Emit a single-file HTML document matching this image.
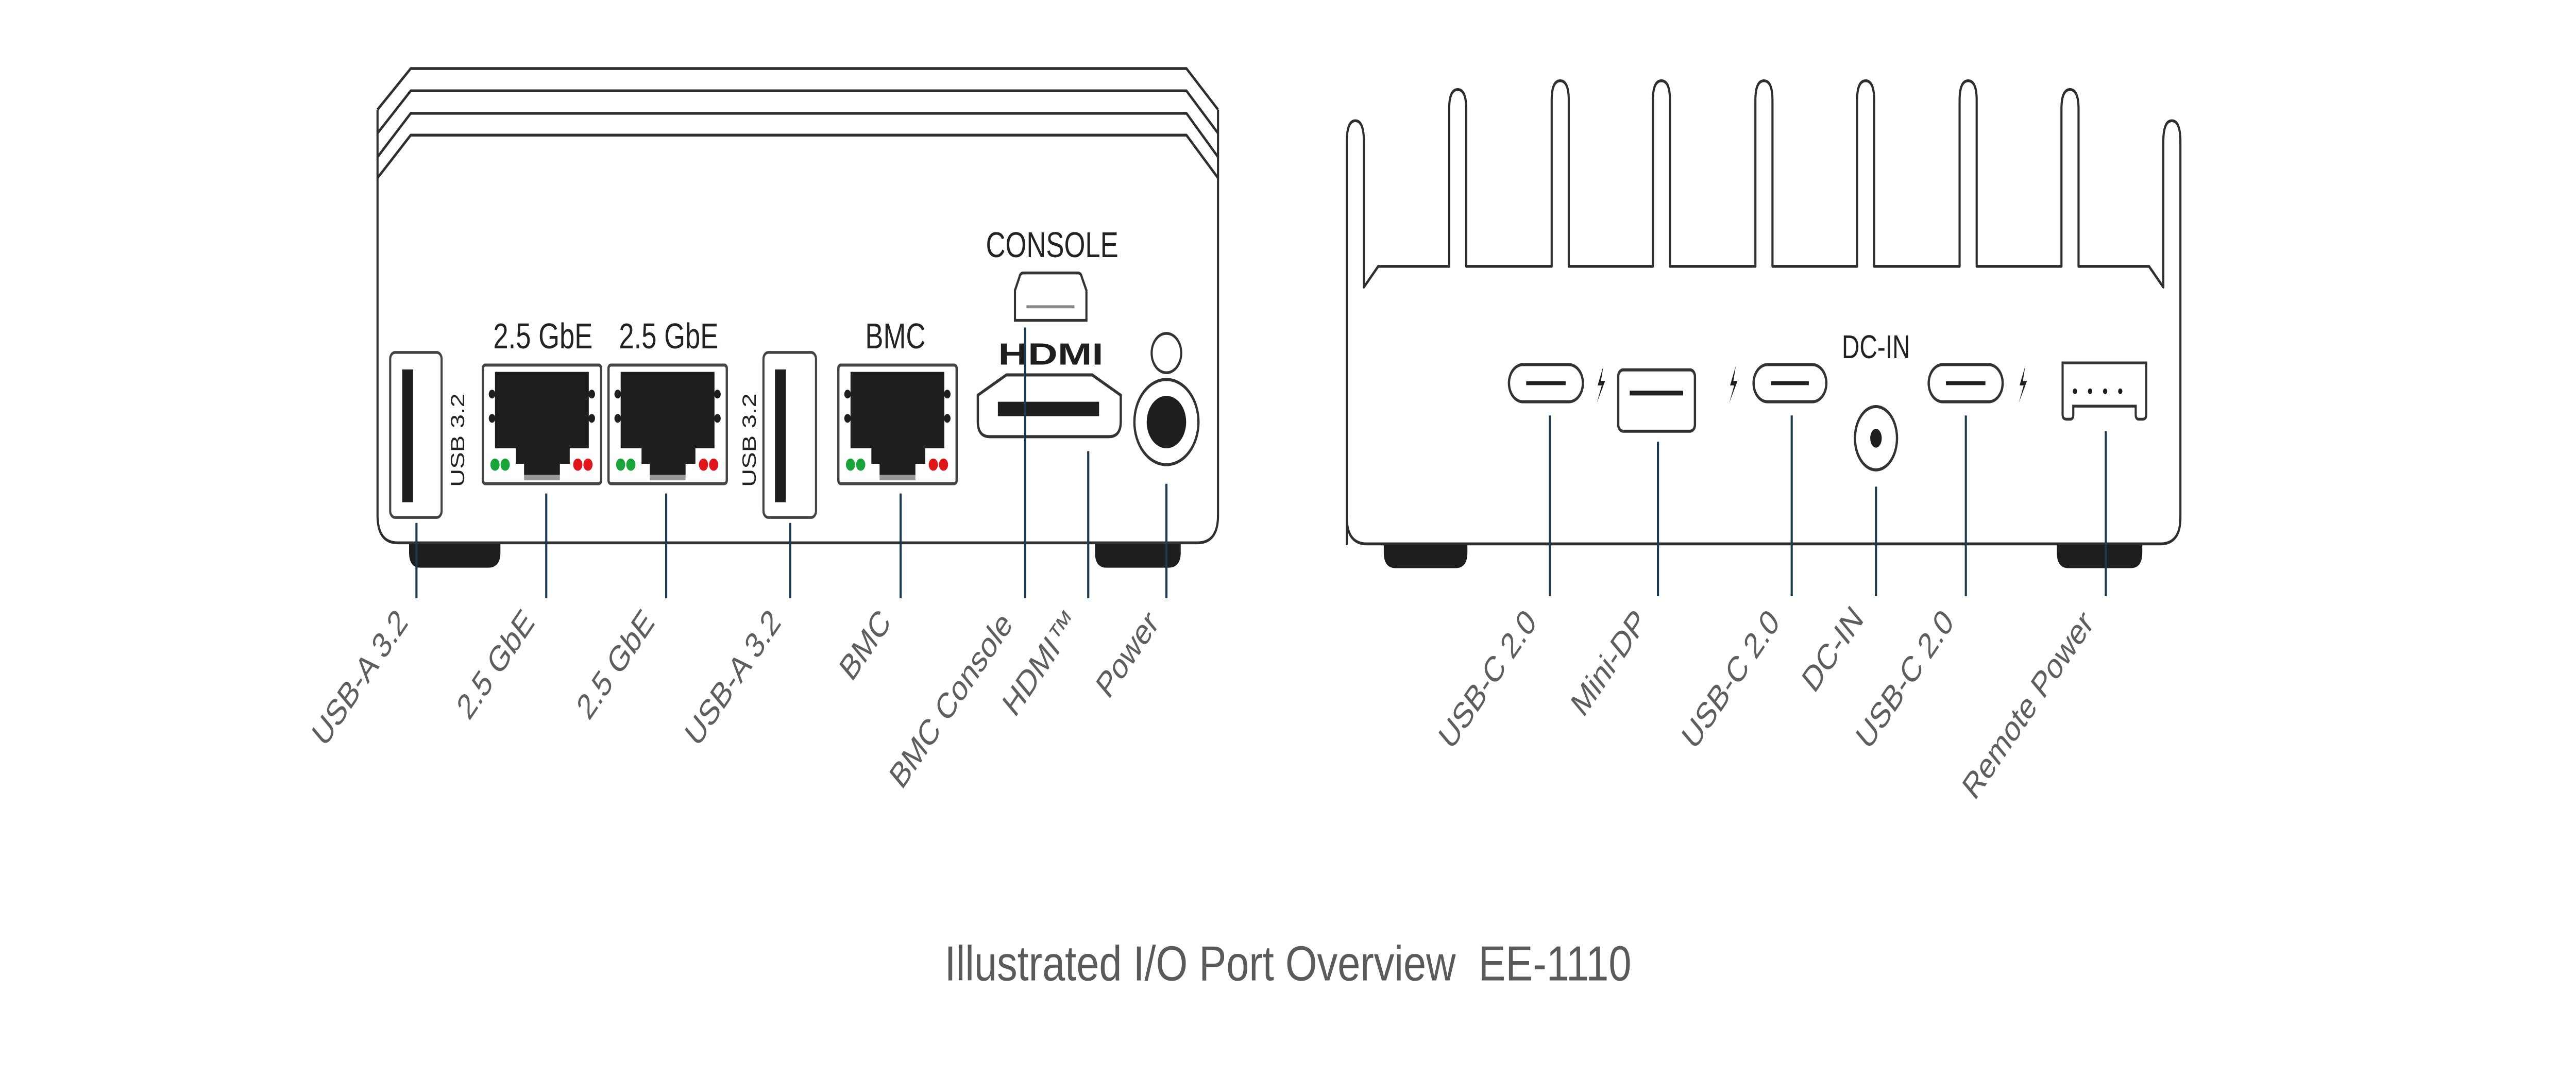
<!DOCTYPE html>
<html><head><meta charset="utf-8"><style>
html,body{margin:0;padding:0;background:#fff;width:100%;height:100%;overflow:hidden;}
svg{display:block;position:fixed;left:0;top:0;width:100vw;height:100vh;}
text{font-family:"Liberation Sans",sans-serif;}
</style></head><body>
<svg viewBox="0 0 1568 492.8" preserveAspectRatio="none" xmlns="http://www.w3.org/2000/svg">
<rect x="0" y="0" width="1568" height="492.8" fill="#fff"/>
<g fill="none" stroke="#2e2e2e" stroke-width="1.3" stroke-linejoin="round">
  <path d="M229.8 50.2 L250 31.4 L722.2 31.4 L741.4 50.2"/>
  <path d="M229.8 61 L250 41.6 L722.2 41.6 L741.4 61"/>
  <path d="M229.8 71.9 L250 51.9 L722.2 51.9 L741.4 71.9"/>
  <path d="M229.8 81.5 L250 61.9 L722.2 61.9 L741.4 81.5"/>
  <path d="M229.8 50.2 L229.8 236 Q229.8 248.6 242 248.6 L729 248.6 Q741.4 248.6 741.4 236 L741.4 50.2"/>
</g>
<path d="M249 249.2 L304.6 249.2 L304.6 253 Q304.6 260 297 260 L256 260 Q249 260 249 253 Z" fill="#1e1e1e"/>
<path d="M666.5 249.2 L718.7 249.2 L718.7 253 Q718.7 260 711 260 L673.5 260 Q666.5 260 666.5 253 Z" fill="#1e1e1e"/>
<rect x="237.5" y="161.4" width="31.3" height="75.6" rx="3" fill="#fff" stroke="#444" stroke-width="1.3"/>
<rect x="244.8" y="169.2" width="6.6" height="60.8" fill="#1e1e1e"/>
<text transform="translate(282.5,201.6) rotate(-90)" font-size="11.5" text-anchor="middle" fill="#222">USB 3.2</text>
<rect x="464.7" y="161.4" width="32" height="75.6" rx="3" fill="#fff" stroke="#444" stroke-width="1.3"/>
<rect x="471.7" y="169.2" width="6.6" height="60.8" fill="#1e1e1e"/>
<text transform="translate(460,201.6) rotate(-90)" font-size="11.5" text-anchor="middle" fill="#222">USB 3.2</text>
<defs>
<g id="rj">
  <rect x="293.9" y="167.2" width="72" height="54.3" rx="1.5" fill="#fff" stroke="#444" stroke-width="1.4"/>
  <path d="M301.3 170.3 L358.4 170.3 L358.4 205.3 L346.8 205.3 L346.8 212.4 L340.8 212.4 L340.8 217.5 L319 217.5 L319 212.4 L314 212.4 L314 205.3 L301.3 205.3 Z" fill="#1e1e1e"/>
  <rect x="319" y="217.5" width="21.8" height="2.5" fill="#999"/>
  <circle cx="299.5" cy="180.5" r="2" fill="#1e1e1e"/>
  <circle cx="299.5" cy="191.6" r="2" fill="#1e1e1e"/>
  <circle cx="360.2" cy="180.5" r="2" fill="#1e1e1e"/>
  <circle cx="360.2" cy="191.6" r="2" fill="#1e1e1e"/>
  <circle cx="301.3" cy="212.8" r="2.8" fill="#1aa53a"/>
  <circle cx="307.5" cy="212.8" r="2.8" fill="#1aa53a"/>
  <circle cx="351.7" cy="212.8" r="2.8" fill="#e0161b"/>
  <circle cx="357.9" cy="212.8" r="2.8" fill="#e0161b"/>
</g>
</defs>
<use href="#rj"/>
<use href="#rj" transform="translate(76.5,0)"/>
<use href="#rj" transform="translate(216.4,0)"/>
<g font-size="16.5" fill="#222" text-anchor="middle">
  <text x="330.5" y="159.5">2.5 GbE</text>
  <text x="407" y="159.5">2.5 GbE</text>
  <text x="545" y="159.5">BMC</text>
  <text x="640.4" y="117.8">CONSOLE</text>
</g>
<path d="M623 125 L656 125 Q658 125 658.5 127 L661.3 133 L661.3 146.7 L617.8 146.7 L617.8 133 L620.5 127 Q621 125 623 125 Z" fill="#fff" stroke="#333" stroke-width="1.3"/>
<line x1="624.8" y1="140.5" x2="654" y2="140.5" stroke="#888" stroke-width="1.4"/>
<text x="639.6" y="167" font-size="14" font-weight="bold" text-anchor="middle" textLength="64" lengthAdjust="spacingAndGlyphs" fill="#1e1e1e">HDMI</text>
<path d="M612.6 171.7 L664.8 171.7 L682.2 181 L682.2 193 Q682.2 200 675 200 L602.4 200 Q595.2 200 595.2 193 L595.2 181 Z" fill="#fff" stroke="#333" stroke-width="1.4"/>
<rect x="607.4" y="184" width="61.6" height="6.6" fill="#1e1e1e"/>
<circle cx="710" cy="161.7" r="9" fill="#fff" stroke="#333" stroke-width="1.3"/>
<circle cx="710" cy="193.3" r="19.5" fill="#fff" stroke="#333" stroke-width="1.4"/>
<circle cx="710" cy="193.3" r="12" fill="#1e1e1e"/>

<g fill="none" stroke="#2e2e2e" stroke-width="1.3" stroke-linejoin="round">
  <path d="M819.8 249.1 L819.8 65 Q819.8 55.3 825 55.3 Q830.2 55.3 830.2 65 L830.2 131.5 L838.9 122 L882.1 122 L882.1 50 Q882.1 41 887.3 41 Q892.5 41 892.5 50 L892.5 122 L944.5 122 L944.5 46 Q944.5 37 949.7 37 Q954.9 37 954.9 46 L954.9 122 L1006.1 122 L1006.1 46 Q1006.1 37 1011.3 37 Q1016.5 37 1016.5 46 L1016.5 122 L1068.5 122 L1068.5 46 Q1068.5 37 1073.7 37 Q1078.9 37 1078.9 46 L1078.9 122 L1130.4 122 L1130.4 46 Q1130.4 37 1135.6 37 Q1140.8 37 1140.8 46 L1140.8 122 L1192.8 122 L1192.8 46 Q1192.8 37 1198 37 Q1203.2 37 1203.2 46 L1203.2 122 L1254.8 122 L1254.8 50 Q1254.8 41 1260 41 Q1265.2 41 1265.2 50 L1265.2 122 L1308.1 122 L1316.8 131.5 L1316.8 65 Q1316.8 55.3 1322 55.3 Q1327.2 55.3 1327.2 65 L1327.2 237 Q1327.2 249.1 1315 249.1 L832 249.1 Q819.8 249.1 819.8 237 Z"/>
</g>
<path d="M842.3 249.5 L893.2 249.5 L893.2 253 Q893.2 260.2 886 260.2 L849.5 260.2 Q842.3 260.2 842.3 253 Z" fill="#1e1e1e"/>
<path d="M1252 249.5 L1304 249.5 L1304 253 Q1304 260.2 1297 260.2 L1259 260.2 Q1252 260.2 1252 253 Z" fill="#1e1e1e"/>
<g fill="#fff" stroke="#333" stroke-width="1.4">
  <rect x="918.5" y="167" width="45" height="17" rx="8.5"/>
  <rect x="1067.4" y="167" width="44.3" height="17" rx="8.5"/>
  <rect x="1174" y="167" width="45" height="17" rx="8.5"/>
  <rect x="985" y="169.4" width="46.7" height="28.1" rx="3"/>
</g>
<g stroke="#1e1e1e" stroke-width="1.8">
  <line x1="929" y1="175.5" x2="953" y2="175.5"/>
  <line x1="1078" y1="175.5" x2="1101" y2="175.5"/>
  <line x1="1184.5" y1="175.5" x2="1208.5" y2="175.5"/>
  <line x1="992" y1="180" x2="1024.5" y2="180" stroke-width="2.2"/>
</g>
<g fill="#1e1e1e">
  <path d="M976 167.5 L972.5 176.5 L975 176.5 L972 184.5 L977 174.5 L974.5 174.5 Z"/>
  <path d="M1056.6 167.5 L1053.1 176.5 L1055.6 176.5 L1052.6 184.5 L1057.6 174.5 L1055.1 174.5 Z"/>
  <path d="M1232.8 167.5 L1229.3 176.5 L1231.8 176.5 L1228.8 184.5 L1233.8 174.5 L1231.3 174.5 Z"/>
</g>
<text x="1141.9" y="164" font-size="15" text-anchor="middle" fill="#222">DC-IN</text>
<ellipse cx="1141.9" cy="200.7" rx="12.8" ry="14.5" fill="#fff" stroke="#333" stroke-width="1.4"/>
<ellipse cx="1141.9" cy="200.7" rx="3.5" ry="4.3" fill="#1e1e1e"/>
<path d="M1255.5 166.2 L1306.4 166.2 L1306.4 190 Q1306.4 192 1304 192 L1302 192 Q1300 192 1300 190 L1300 186 L1262 186 L1262 190 Q1262 192 1260 192 L1258 192 Q1255.5 192 1255.5 190 Z" fill="#fff" stroke="#333" stroke-width="1.3"/>
<g fill="#1e1e1e">
  <circle cx="1263" cy="179.2" r="1.3"/><circle cx="1272.2" cy="179.2" r="1.3"/>
  <circle cx="1281.4" cy="179.2" r="1.3"/><circle cx="1290.6" cy="179.2" r="1.3"/>
</g>

<g stroke="#1d3a4f" stroke-width="1.3">
  <line x1="253.5" y1="239.5" x2="253.5" y2="274"/>
  <line x1="332.5" y1="226" x2="332.5" y2="274"/>
  <line x1="405.5" y1="226" x2="405.5" y2="274"/>
  <line x1="481" y1="239.5" x2="481" y2="274"/>
  <line x1="548.2" y1="226" x2="548.2" y2="274"/>
  <line x1="624" y1="150" x2="624" y2="274"/>
  <line x1="662.4" y1="206.6" x2="662.4" y2="274"/>
  <line x1="710" y1="221.6" x2="710" y2="274"/>
  <line x1="943.4" y1="190.3" x2="943.4" y2="273"/>
  <line x1="1009.2" y1="202.3" x2="1009.2" y2="273"/>
  <line x1="1090.6" y1="190.3" x2="1090.6" y2="273"/>
  <line x1="1141.9" y1="222.9" x2="1141.9" y2="273"/>
  <line x1="1196.6" y1="190.3" x2="1196.6" y2="273"/>
  <line x1="1281.8" y1="197.5" x2="1281.8" y2="273"/>
</g>
<g font-size="16.5" fill="#5e5e5e" text-anchor="end">
  <text transform="translate(249,285.5) rotate(-48)">USB-A 3.2</text>
  <text transform="translate(326,285.5) rotate(-48)">2.5 GbE</text>
  <text transform="translate(399,285.5) rotate(-48)">2.5 GbE</text>
  <text transform="translate(476,285.5) rotate(-48)">USB-A 3.2</text>
  <text transform="translate(543,285.5) rotate(-48)">BMC</text>
  <text transform="translate(617,286.5) rotate(-48)">BMC Console</text>
  <text transform="translate(657,285.5) rotate(-48)">HDMI™</text>
  <text transform="translate(706,286) rotate(-48)">Power</text>
  <text transform="translate(936,285.5) rotate(-48)">USB-C 2.0</text>
  <text transform="translate(1003,285.5) rotate(-48)">Mini-DP</text>
  <text transform="translate(1084,285.5) rotate(-48)">USB-C 2.0</text>
  <text transform="translate(1135,284) rotate(-48)">DC-IN</text>
  <text transform="translate(1190,285.5) rotate(-48)">USB-C 2.0</text>
  <text transform="translate(1275,286) rotate(-48)">Remote Power</text>
</g>
<text x="575" y="449" font-size="22.5" fill="#5a5a5a" textLength="418" lengthAdjust="spacingAndGlyphs" xml:space="preserve">Illustrated I/O Port Overview  EE-1110</text>
</svg>
</body></html>
